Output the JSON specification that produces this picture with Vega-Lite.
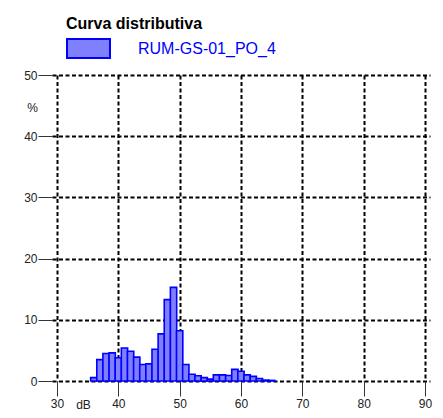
{
  "$schema": "https://vega.github.io/schema/vega-lite/v6.json",
  "width": 378,
  "height": 306,
  "autosize": {"type": "none"},
  "padding": {"left": 52, "top": 75, "right": 13, "bottom": 37},
  "background": "white",
  "config": {
    "view": {"stroke": null},
    "font": "Liberation Sans",
    "axis": {
      "grid": true,
      "gridColor": "#000000",
      "gridDash": [4, 2.5],
      "gridWidth": 2,
      "gridOpacity": 1,
      "domain": false,
      "tickColor": "#333333",
      "tickWidth": 1,
      "labelFont": "Liberation Sans",
      "labelFontSize": 12,
      "labelColor": "#222222",
      "titleFont": "Liberation Sans",
      "titleFontSize": 12,
      "titleFontWeight": "normal",
      "titleColor": "#222222"
    }
  },
  "data": {
    "values": [
      {"db": 36, "pct": 0.55},
      {"db": 37, "pct": 3.5},
      {"db": 38, "pct": 4.5},
      {"db": 39, "pct": 4.6},
      {"db": 40, "pct": 3.8},
      {"db": 41, "pct": 5.4},
      {"db": 42, "pct": 4.85},
      {"db": 43, "pct": 3.9},
      {"db": 44, "pct": 2.7},
      {"db": 45, "pct": 2.8},
      {"db": 46, "pct": 5.2},
      {"db": 47, "pct": 7.7},
      {"db": 48, "pct": 13.3},
      {"db": 49, "pct": 15.3},
      {"db": 50, "pct": 8.2},
      {"db": 51, "pct": 2.7},
      {"db": 52, "pct": 1.1},
      {"db": 53, "pct": 0.85},
      {"db": 54, "pct": 0.55},
      {"db": 55, "pct": 0.3},
      {"db": 56, "pct": 1.0},
      {"db": 57, "pct": 1.0},
      {"db": 58, "pct": 0.9},
      {"db": 59, "pct": 1.9},
      {"db": 60, "pct": 1.6},
      {"db": 61, "pct": 1.0},
      {"db": 62, "pct": 0.75},
      {"db": 63, "pct": 0.4},
      {"db": 64, "pct": 0.15},
      {"db": 65, "pct": 0.1}
    ]
  },
  "mark": {"type": "bar", "width": 6.3, "stroke": "#0000ff", "strokeWidth": 1.6, "opacity": 1},
  "encoding": {
    "x": {
      "field": "db",
      "type": "quantitative",
      "scale": {"domain": [30, 90], "nice": false, "zero": false},
      "axis": {
        "values": [30, 40, 50, 60, 70, 80, 90],
        "tickSize": 15,
        "labelPadding": 2,
        "title": "dB",
        "titleAnchor": "start",
        "titleAlign": "center",
        "titleBaseline": "middle",
        "titleX": 31,
        "titleY": 23
      }
    },
    "y": {
      "field": "pct",
      "type": "quantitative",
      "scale": {"domain": [0, 50], "nice": false},
      "axis": {
        "values": [0, 10, 20, 30, 40, 50],
        "tickSize": 14,
        "labelPadding": 1,
        "title": "%",
        "titleAngle": 0,
        "titleAlign": "center",
        "titleBaseline": "middle",
        "titleX": -20,
        "titleY": 32
      }
    },
    "color": {
      "datum": "RUM-GS-01_PO_4",
      "scale": {"range": ["#8080ff"]},
      "legend": {
        "title": "Curva distributiva",
        "orient": "none",
        "legendX": 14,
        "legendY": -59,
        "padding": 0,
        "titleFont": "Liberation Sans",
        "titleFontSize": 16,
        "titleFontWeight": "bold",
        "titleColor": "#000000",
        "titlePadding": -6,
        "symbolType": "M-1,-0.44H1V0.44H-1Z",
        "symbolSize": 1849,
        "symbolStrokeColor": "#0000ff",
        "symbolStrokeWidth": 2,
        "symbolOpacity": 1,
        "labelFont": "Liberation Sans",
        "labelFontSize": 16,
        "labelColor": "#0000ff",
        "labelOffset": 27
      }
    }
  }
}
